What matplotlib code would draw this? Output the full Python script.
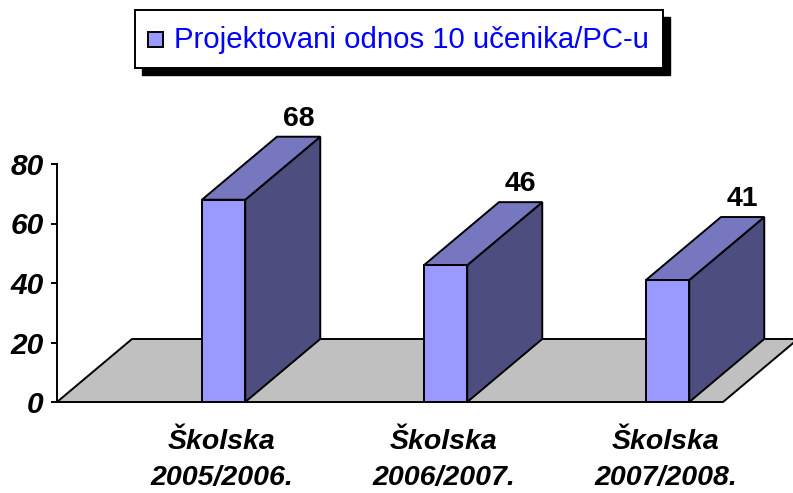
import matplotlib

matplotlib.use("Agg")
import matplotlib.pyplot as plt  # noqa: E402
from matplotlib.patches import Polygon, Rectangle  # noqa: E402

plt.rcParams["font.family"] = ["Liberation Sans", "DejaVu Sans"]

categories = ["Školska\n2005/2006.", "Školska\n2006/2007.", "Školska\n2007/2008."]
values = [68, 46, 41]
series_name = "Projektovani odnos 10 učenika/PC-u"
yticks = [0, 20, 40, 60, 80]

FRONT = "#9999FF"
TOP = "#7777C0"
SIDE = "#4D4D80"
FLOOR = "#C0C0C0"

W, H = 793, 493
fig = plt.figure(figsize=(W / 100, H / 100), dpi=100)
ax = fig.add_axes([0, 0, 1, 1])

# pixel layout of the reference: y axis at x=57, one category is 222 px wide,
# value 0 sits at y=402 and 80 at y=164
px_per_cat = 222.0
px_per_unit = (402 - 164) / 80.0
ax.set_xlim(-57 / px_per_cat, (W - 57) / px_per_cat)
ax.set_ylim((402 - H) / px_per_unit, 402 / px_per_unit)

dx = 75 / px_per_cat  # depth offset to the right
dy = 63 / px_per_unit  # depth offset upwards
bar_off = 0.653
bar_w = 0.195
n = len(categories)

# floor
ax.add_patch(Polygon([(0, 0), (n, 0), (n + dx, dy), (dx, dy)], closed=True,
                     facecolor=FLOOR, edgecolor="black", lw=1.4, zorder=1))

for i, v in enumerate(values):
    x0 = i + bar_off
    x1 = x0 + bar_w
    ax.add_patch(Polygon([(x1, 0), (x1 + dx, dy), (x1 + dx, v + dy), (x1, v)],
                         closed=True, facecolor=SIDE, edgecolor="black", lw=1.4, zorder=2))
    ax.add_patch(Polygon([(x0, v), (x1, v), (x1 + dx, v + dy), (x0 + dx, v + dy)],
                         closed=True, facecolor=TOP, edgecolor="black", lw=1.4, zorder=2))
    ax.add_patch(Rectangle((x0, 0), bar_w, v, facecolor=FRONT, edgecolor="black",
                           lw=1.4, zorder=3))
    ax.text(x0 + bar_w / 2 + dx, v + dy + 3.7, str(v), ha="center", va="baseline",
            fontsize=20.5, fontweight="bold", zorder=4)
    first, second = categories[i].split("\n")
    cx = x0 + bar_w / 2 - 0.01
    ax.text(cx, (402 - 449) / px_per_unit, first, ha="center", va="baseline",
            fontsize=20.5, fontweight="bold", fontstyle="italic")
    ax.text(cx, (402 - 485) / px_per_unit, second, ha="center", va="baseline",
            fontsize=20.5, fontweight="bold", fontstyle="italic")

# value axis
for side in ("top", "right", "bottom"):
    ax.spines[side].set_visible(False)
ax.spines["left"].set_position(("data", 0))
ax.spines["left"].set_bounds(0, 80)
ax.spines["left"].set_linewidth(1.4)
ax.spines["left"].set_zorder(5)
ax.set_yticks(yticks)
ax.set_yticklabels([str(t) for t in yticks], fontsize=21.5, fontweight="bold",
                   fontstyle="italic")
ax.tick_params(axis="y", direction="out", length=4.5, width=1.4, pad=5)
ax.set_xticks([])
ax.patch.set_visible(False)


# legend drawn in pixel coordinates of the figure
def fx(px):
    return px / W


def fy(py):
    return 1 - py / H


fig.patches.append(Rectangle((fx(142), fy(75)), fx(663 - 135), (68 - 10) / H,
                             transform=fig.transFigure, facecolor="black",
                             edgecolor="black", zorder=10))
fig.patches.append(Rectangle((fx(135), fy(68)), fx(663 - 135), (68 - 10) / H,
                             transform=fig.transFigure, facecolor="white",
                             edgecolor="black", lw=1.4, zorder=11))
fig.patches.append(Rectangle((fx(148), fy(47)), fx(15), 15 / H,
                             transform=fig.transFigure, facecolor=FRONT,
                             edgecolor="black", lw=1.4, zorder=12))
fig.text(fx(174), fy(40), series_name, color="#0000FF", fontsize=21.2,
         ha="left", va="center", zorder=12)

fig.savefig("out.png", dpi=100)
